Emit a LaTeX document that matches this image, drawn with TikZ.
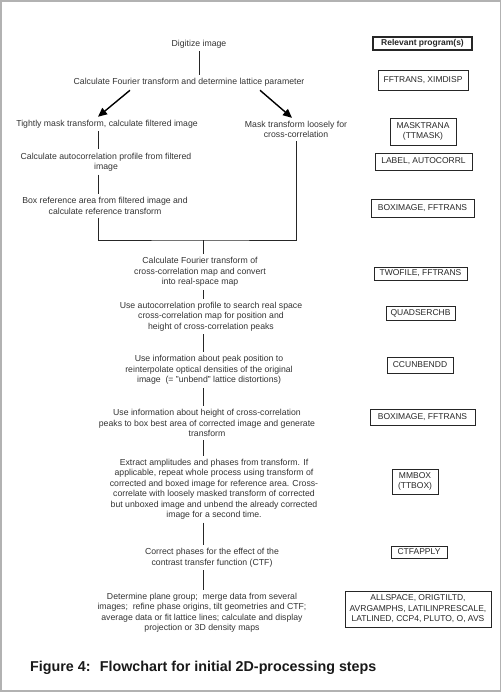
\documentclass[tikz,border=0pt]{standalone}
\usepackage{fontspec}
\setmainfont{Liberation Sans}
\usepackage{tikz}
\usetikzlibrary{arrows.meta,calc,positioning}
\tikzset{
  paso/.style={align=center,font=\fontsize{8.7}{10.5}\selectfont,text=black!80,inner sep=3pt},
  prog/.style={draw=black!85,line width=0.6pt,font=\fontsize{8.5}{10.5}\selectfont,text=black!85,inner sep=1pt},
  linea/.style={draw=black!85,line width=0.9pt},
  flecha/.style={draw=black,line width=1.4pt,-{Triangle[length=9pt,width=8pt]}}
}
\begin{document}
\begin{tikzpicture}[x=1pt,y=-1pt]
\useasboundingbox (0,0) rectangle (502,693);
\draw[gray!60,line width=1.5pt] (1,1) rectangle (500.5,691);
% pasos
\node[paso] (digit) at (199,44) {Digitize image};
\node[paso] (fourier) at (189,82) {Calculate Fourier transform and determine lattice parameter};
\node[paso] (tight) at (107,124) {Tightly mask transform, calculate filtered image};
\node[paso] (loose) at (296,129.5) {Mask transform loosely for\\cross-correlation};
\node[paso] (autoc) at (106,162) {Calculate autocorrelation profile from filtered\\image};
\node[paso] (boxref) at (105,206) {Box reference area from filtered image and\\calculate reference transform};
\node[paso] (ccmap) at (200,272) {Calculate Fourier transform of\\cross-correlation map and convert\\into real-space map};
\node[paso] (search) at (211,316.5) {Use autocorrelation profile to search real space\\cross-correlation map for position and\\height of cross-correlation peaks};
\node[paso] (unbend) at (209,370) {Use information about peak position to\\reinterpolate optical densities of the original\\image~~(= "unbend" lattice distortions)};
\node[paso] (height) at (207,423) {Use information about height of cross-correlation\\peaks to box best area of corrected image and generate\\transform};
\node[paso] (extract) at (214,489) {Extract amplitudes and phases from transform. If\\applicable, repeat whole process using transform of\\corrected and boxed image for reference area. Cross-\\correlate with loosely masked transform of corrected\\but unboxed image and unbend the already corrected\\image for a second time.};
\node[paso] (ctf) at (212,557.5) {Correct phases for the effect of the\\contrast transfer function (CTF)};
\node[paso] (merge) at (202,612.5) {Determine plane group;~ merge data from several\\images;~ refine phase origins, tilt geometries and CTF;\\average data or fit lattice lines; calculate and display\\projection or 3D density maps};
\node[anchor=west,inner sep=0pt,font=\bfseries\fontsize{14.3}{16}\selectfont,text=black!90] (titulo) at (30,668) {Figure 4:~ Flowchart for initial 2D-processing steps};
% programas
\node[prog,line width=1.5pt,font=\bfseries\fontsize{8.5}{10.5}\selectfont,minimum width=99pt,minimum height=13pt] (hdr) at (422.5,43.5) {Relevant program(s)};
\node[prog,minimum width=90pt,minimum height=20pt] (p1) at (423,80) {FFTRANS, XIMDISP};
\node[prog,align=center,minimum width=66pt,minimum height=27pt] (p2) at (423,131.5) {MASKTRANA\\(TTMASK)};
\node[prog,minimum width=97pt,minimum height=17pt] (p3) at (423.5,161.5) {LABEL, AUTOCORRL};
\node[prog,minimum width=103pt,minimum height=18pt] (p4) at (422.5,208) {BOXIMAGE, FFTRANS};
\node[prog,minimum width=93pt,minimum height=13pt] (p5) at (420.5,273.5) {TWOFILE, FFTRANS};
\node[prog,minimum width=69pt,minimum height=14pt] (p6) at (420.5,313) {QUADSERCHB};
\node[prog,minimum width=66pt,minimum height=16pt] (p7) at (420,365) {CCUNBENDD};
\node[prog,minimum width=105pt,minimum height=16pt] (p8) at (422.5,417) {BOXIMAGE, FFTRANS};
\node[prog,align=center,minimum width=46pt,minimum height=25pt] (p9) at (415,481.5) {MMBOX\\(TTBOX)};
\node[prog,minimum width=56pt,minimum height=12pt] (p10) at (419,552) {CTFAPPLY};
\node[prog,align=center,minimum width=146pt,minimum height=36pt] (p11) at (418,609) {ALLSPACE, ORIGTILTD,\\AVRGAMPHS, LATILINPRESCALE,\\LATLINED, CCP4, PLUTO, O, AVS};
% conexiones
\coordinate (ejeL) at (98,0);
\coordinate (eje) at (203,0);
\coordinate (union) at (203,240);
\draw[linea] (digit.south) -- (digit.south |- fourier.north);
\draw[flecha] ([xshift=-59pt,yshift=-1pt]fourier.south) -- ([xshift=-9pt]tight.north);
\draw[flecha] ([xshift=71pt,yshift=-1pt]fourier.south) -- ([xshift=-4pt]loose.north);
\draw[linea] (tight.south -| ejeL) -- (autoc.north -| ejeL);
\draw[linea] (autoc.south -| ejeL) -- (boxref.north -| ejeL);
\draw[linea] (boxref.south -| ejeL) |- (union) -| (loose.south);
\draw[linea] (union) -- (ccmap.north -| union);
\foreach \a/\b in {ccmap/search,search/unbend,unbend/height,height/extract,extract/ctf,ctf/merge}
  \draw[linea] (\a.south -| eje) -- (\b.north -| eje);
\end{tikzpicture}
\end{document}
